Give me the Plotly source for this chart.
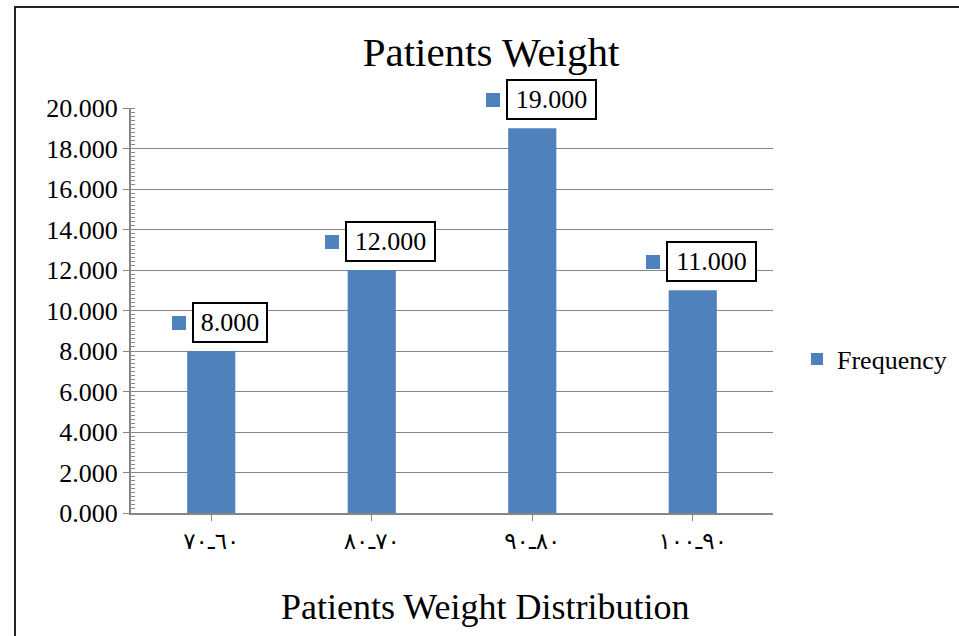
import plotly.graph_objects as go

categories = ["٦٠ـ٧٠", "٧٠ـ٨٠", "٨٠ـ٩٠", "٩٠ـ١٠٠"]
frequency = [8, 12, 19, 11]
series_name = "Frequency"
chart_title = "Patients Weight"
x_title = "Patients Weight Distribution"

BAR = "#4F81BD"
GRID = "#868686"
FONT = "Liberation Serif"

L, R, T, B = 131, 186, 108, 123
W, H = 959, 636
pw, ph = W - L - R, H - T - B

fig = go.Figure()
fig.add_trace(go.Bar(
    x=list(range(len(categories))), y=frequency, name=series_name,
    marker=dict(color=BAR, line=dict(width=0)), width=0.3,
    showlegend=True,
))

shapes = []
annotations = []
for i, v in enumerate(frequency):
    txt = f"{v:.3f}"
    w = 15 * len(txt) + 1
    # boxed data label
    annotations.append(dict(x=i, y=v, xref="x", yref="y", text=txt, showarrow=False,
                            xanchor="center", yanchor="middle", xshift=19, yshift=28.5,
                            width=w - 4, height=37, borderpad=0, borderwidth=2,
                            bordercolor="black", bgcolor="white", align="center", valign="middle",
                            font=dict(family=FONT, size=26, color="black")))
    # legend key square beside label
    annotations.append(dict(x=i, y=v, xref="x", yref="y", text=" ", showarrow=False,
                            xanchor="center", yanchor="middle", xshift=19 - w / 2 - 13, yshift=28.5,
                            width=14, height=14, borderpad=0, borderwidth=0,
                            bgcolor=BAR, font=dict(size=6)))

# outer chart border
shapes.append(dict(type="rect", xref="paper", yref="paper",
                   x0=(15 - L) / pw, x1=(W + 10 - L) / pw,
                   y0=-(H + 10 - T - ph) / ph, y1=(H - 7 - B) / ph,
                   line=dict(color="#222222", width=2), fillcolor="rgba(0,0,0,0)", layer="below"))

annotations.append(dict(x=(485 - L) / pw, y=(H - B - 607) / ph, xref="paper", yref="paper",
                        text=x_title, showarrow=False, xanchor="center", yanchor="middle",
                        font=dict(family=FONT, size=36, color="black")))

fig.update_layout(
    width=W, height=H, autosize=False,
    margin=dict(l=L, r=R, t=T, b=B, pad=0, autoexpand=False),
    paper_bgcolor="white", plot_bgcolor="white",
    font=dict(family=FONT, size=26, color="black"),
    title=dict(text=chart_title, x=491 / W, xanchor="center", y=1 - 52 / H, yanchor="middle",
               xref="container", yref="container",
               font=dict(family=FONT, size=41, color="black")),
    showlegend=True,
    legend=dict(x=(797 - L) / pw, y=(H - B - 359) / ph, xanchor="left", yanchor="middle",
                font=dict(family=FONT, size=26, color="black"), bgcolor="rgba(0,0,0,0)",
                itemwidth=30, traceorder="normal"),
    shapes=shapes,
    annotations=annotations,
)
fig.update_xaxes(
    tickmode="array", tickvals=list(range(len(categories))), ticktext=categories,
    range=[-0.5, len(categories) - 0.5],
    showline=True, linecolor=GRID, linewidth=2,
    ticks="outside", ticklen=6, tickcolor=GRID, tickwidth=1,
    showgrid=False, zeroline=False,
    tickfont=dict(family="DejaVu Sans", size=23, color="black"),
)
fig.update_xaxes(tickson="boundaries")
fig.update_yaxes(
    range=[0, 20], dtick=2, tickformat=".3f",
    showline=True, linecolor=GRID, linewidth=2,
    ticks="outside", ticklen=6, tickcolor=GRID, tickwidth=1,
    showgrid=True, gridcolor=GRID, gridwidth=1, zeroline=False,
    tickfont=dict(family=FONT, size=26, color="black"),
    minor=dict(dtick=0.2, ticks="inside", ticklen=4, tickcolor=GRID, showgrid=False),
)

fig.write_html(
    "out.html",
    config={"displayModeBar": False, "responsive": False},
    post_script="document.body.style.margin='0px';document.body.style.overflow='hidden';",
)
